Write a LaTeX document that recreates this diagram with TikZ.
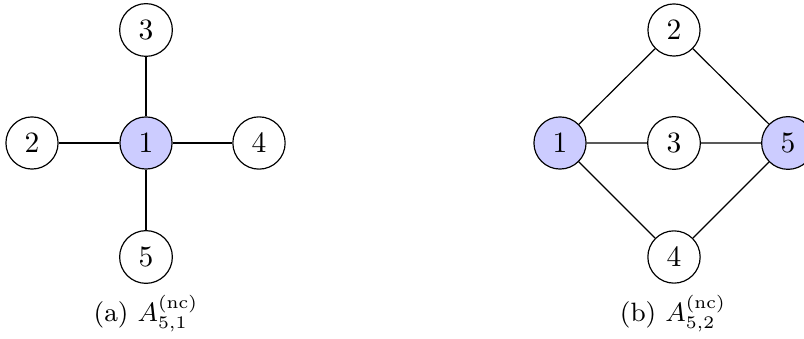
\documentclass[tikz,border=0pt]{standalone}
\usepackage{amsmath}
\begin{document}
\begin{tikzpicture}[x=0.339pt, y=-0.339pt,
  vertex/.style={circle, draw, fill=white},
  marked/.style={vertex, fill=blue!20},
  edge/.style={draw, line width=0.4pt},
  caption/.style={anchor=base, font=\small}]
\useasboundingbox (0,0) rectangle (804,339);

% (a) star graph centred on vertex 1
\node[marked] (a1) at (146,143) {1};
\node[vertex] (a3) at (146,30) {3};
\node[vertex] (a2) at (32,143) {2};
\node[vertex] (a4) at (259,143) {4};
\node[vertex] (a5) at (146,257) {5};
\path[edge] (a1) -- (a3) (a1) -- (a2) (a1) -- (a4) (a1) -- (a5);
\node[caption] (capa) at (146,322) {(a) $A^{(\mathrm{nc})}_{5,1}$};

% (b) three parallel paths between vertices 1 and 5
\node[marked] (b1) at (560,143) {1};
\node[vertex] (b2) at (674,30) {2};
\node[vertex] (b3) at (674,143) {3};
\node[vertex] (b4) at (674,257) {4};
\node[marked] (b5) at (788,143) {5};
\path[edge] (b1) -- (b2) (b2) -- (b5) (b1) -- (b3) (b3) -- (b5)
  (b1) -- (b4) (b4) -- (b5);
\node[caption] (capb) at (673,322) {(b) $A^{(\mathrm{nc})}_{5,2}$};
\end{tikzpicture}
\end{document}
